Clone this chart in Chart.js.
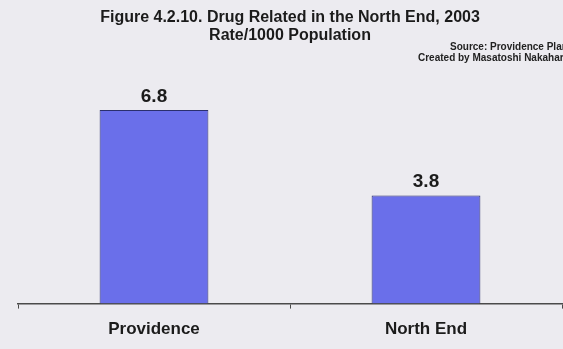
<!DOCTYPE html>
<html>
<head>
<meta charset="utf-8">
<script src="https://cdn.jsdelivr.net/npm/chart.js@4"></script>
<style>
  html, body { margin: 0; padding: 0; background: #ecebf0; }
  #wrap { width: 563px; height: 349px; position: relative; }
</style>
</head>
<body>
<div id="wrap"><canvas id="c" width="563" height="349"></canvas></div>
<script>
// Drug-related incidents per 1000 population, 2003
const areas = ['Providence', 'North End'];
const ratePer1000 = [6.8, 3.8];
const titleLines = ['Figure 4.2.10. Drug Related in the North End, 2003', 'Rate/1000 Population'];
const creditLines = ['Source: Providence Plan', 'Created by Masatoshi Nakahara'];

const FONT = "'Liberation Sans', Arial, sans-serif";

// Value labels above each bar, positioned from the bar elements
const valueLabels = {
  id: 'valueLabels',
  afterDatasetsDraw(chart) {
    const ctx = chart.ctx;
    const meta = chart.getDatasetMeta(0);
    ctx.save();
    ctx.font = 'bold 19px ' + FONT;
    ctx.fillStyle = '#1b1b1b';
    ctx.textAlign = 'center';
    ctx.textBaseline = 'alphabetic';
    meta.data.forEach((bar, i) => {
      ctx.fillText(ratePer1000[i].toFixed(1), bar.x, bar.y - 8);
    });
    ctx.restore();
  }
};

// Small source / author credit at upper right
const credits = {
  id: 'credits',
  afterDraw(chart) {
    const ctx = chart.ctx;
    ctx.save();
    ctx.font = 'bold 10px ' + FONT;
    ctx.fillStyle = '#222';
    ctx.textAlign = 'left';
    ctx.textBaseline = 'middle';
    ctx.fillText(creditLines[0], 450, 47);
    ctx.fillText(creditLines[1], 418, 58);
    ctx.restore();
  }
};

new Chart(document.getElementById('c'), {
  type: 'bar',
  data: {
    labels: areas,
    datasets: [{
      data: ratePer1000,
      backgroundColor: '#6a6fea',
      borderColor: '#2a2f6e',
      borderWidth: 1,
      barPercentage: 0.4,
      categoryPercentage: 1.0
    }]
  },
  options: {
    responsive: false,
    animation: false,
    layout: { padding: { left: 18, right: 1, top: 0, bottom: -2 } },
    plugins: {
      legend: { display: false },
      tooltip: { enabled: false },
      title: {
        display: true,
        text: titleLines,
        color: '#1b1b1b',
        font: { family: FONT, size: 16, weight: 'bold', lineHeight: 1.15 },
        padding: { top: 8, bottom: 31 }
      }
    },
    scales: {
      x: {
        offset: true,
        border: { display: true, color: '#4a4a4a', width: 1.5 },
        grid: {
          offset: true,
          drawOnChartArea: false,
          drawTicks: true,
          tickLength: 5,
          color: '#4a4a4a',
          lineWidth: 1
        },
        ticks: {
          color: '#1b1b1b',
          padding: 11,
          font: { family: FONT, size: 17, weight: 'bold' }
        }
      },
      y: {
        display: false,
        min: 0,
        max: 8
      }
    }
  },
  plugins: [valueLabels, credits]
});
</script>
</body>
</html>
